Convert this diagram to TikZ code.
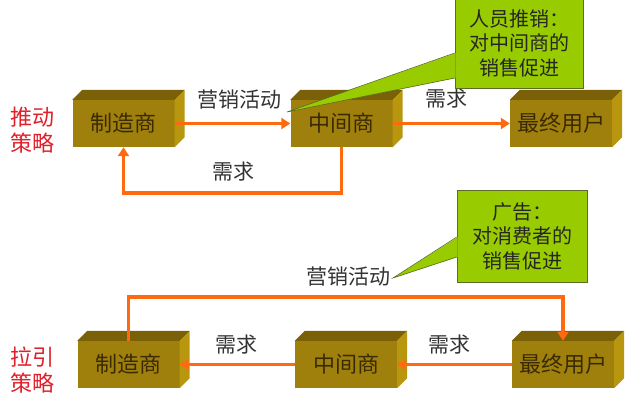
\documentclass[tikz,border=0pt]{standalone}
\usepackage{fontspec}
\setmainfont{Noto Sans CJK SC}
\usetikzlibrary{arrows.meta}
\definecolor{cratefront}{HTML}{A0800C}
\definecolor{cratetop}{HTML}{7A6006}
\definecolor{crateside}{HTML}{B8960E}
\definecolor{cratetext}{HTML}{3A2A00}
\definecolor{flowarrow}{HTML}{FF6A10}
\definecolor{notegreen}{HTML}{99CC00}
\definecolor{noteline}{HTML}{5A6B2A}
\definecolor{labelgray}{HTML}{333333}
\definecolor{strategyred}{HTML}{E0202A}
\tikzset{
  crate/.style={fill=cratefront, minimum width=102pt, minimum height=47pt,
    text=cratetext, font=\fontsize{22}{26}\selectfont, inner sep=0pt},
  flow/.style={draw=flowarrow, line width=3.8pt, -{Triangle[length=9pt,width=11pt]}},
  note/.style={fill=notegreen, draw=noteline, line width=0.6pt, text=black!85,
    align=center, font=\fontsize{20}{24.5}\selectfont, inner sep=0pt},
  tag/.style={text=labelgray, font=\fontsize{21}{24}\selectfont},
  strategy/.style={text=strategyred, align=center, font=\fontsize{22}{25.5}\selectfont}
}

\begin{document}
\begin{tikzpicture}[x=1pt, y=-1pt]
  \fill[white] (0,0) rectangle (630,400);
  \useasboundingbox (0,0) rectangle (630,400);

  % strategy labels
  \node[strategy] (push) at (32,130) {推动\\策略};
  \node[strategy] (pull) at (32,370) {拉引\\策略};

  % push row
  \node[crate] (pm) at (123.5,123.5) {制造商};
  \node[crate] (pi) at (341.5,123.5) {中间商};
  \node[crate] (pe) at (561,123.5) {最终用户};
  % pull row
  \node[crate] (lm) at (128.5,364.5) {制造商};
  \node[crate] (li) at (346,364.5) {中间商};
  \node[crate] (le) at (563,364.5) {最终用户};

  \foreach \b in {pm,pi,pe,lm,li,le} {
    \fill[cratetop] (\b.north west) -- ++(10,-10)
      -- ([shift={(10,-10)}]\b.north east) -- (\b.north east) -- cycle;
    \fill[crateside] (\b.north east) -- ++(10,-10)
      -- ([shift={(10,-10)}]\b.south east) -- (\b.south east) -- cycle;
  }

  % push flows
  \draw[flow] (pm.east) -- (pi.west);
  \draw[flow] (pi.east) -- (pe.west);
  \draw[flow] (pi.south) -- ++(0,46) -| (pm.south);
  \node[tag] (pushact) at (239,100) {营销活动};
  \node[tag] (pushneed) at (446,99) {需求};
  \node[tag] (pushback) at (233,172) {需求};

  % pull flows
  \draw[flow] (lm.north) -- ++(0,-44) -| (le.north);
  \draw[flow] (le.west) -- (li.east);
  \draw[flow] (li.west) -- (lm.east);
  \node[tag] (pullact) at (348,277) {营销活动};
  \node[tag] (pullneed1) at (236,345) {需求};
  \node[tag] (pullneed2) at (449,345) {需求};

  % callouts
  \node[note, minimum width=128pt, minimum height=90pt] (pushnote) at (519,43)
    {人员推销：\\对中间商的\\销售促进};
  \coordinate (pushtip) at (287,112);
  \fill[notegreen] ([shift={(1pt,-10pt)}]pushnote.west) -- (pushtip)
    -- ([shift={(1pt,-35pt)}]pushnote.west) -- cycle;
  \draw[noteline, line width=0.6pt] ([yshift=-10pt]pushnote.west) -- (pushtip)
    -- ([yshift=-35pt]pushnote.west);

  \node[note, minimum width=130pt, minimum height=92pt] (pullnote) at (522,236)
    {广告：\\对消费者的\\销售促进};
  \coordinate (pulltip) at (393,278);
  \fill[notegreen] ([shift={(1pt,-1pt)}]pullnote.west) -- (pulltip)
    -- ([shift={(1pt,-21pt)}]pullnote.west) -- cycle;
  \draw[noteline, line width=0.6pt] ([yshift=-1pt]pullnote.west) -- (pulltip)
    -- ([yshift=-21pt]pullnote.west);
\end{tikzpicture}
\end{document}
